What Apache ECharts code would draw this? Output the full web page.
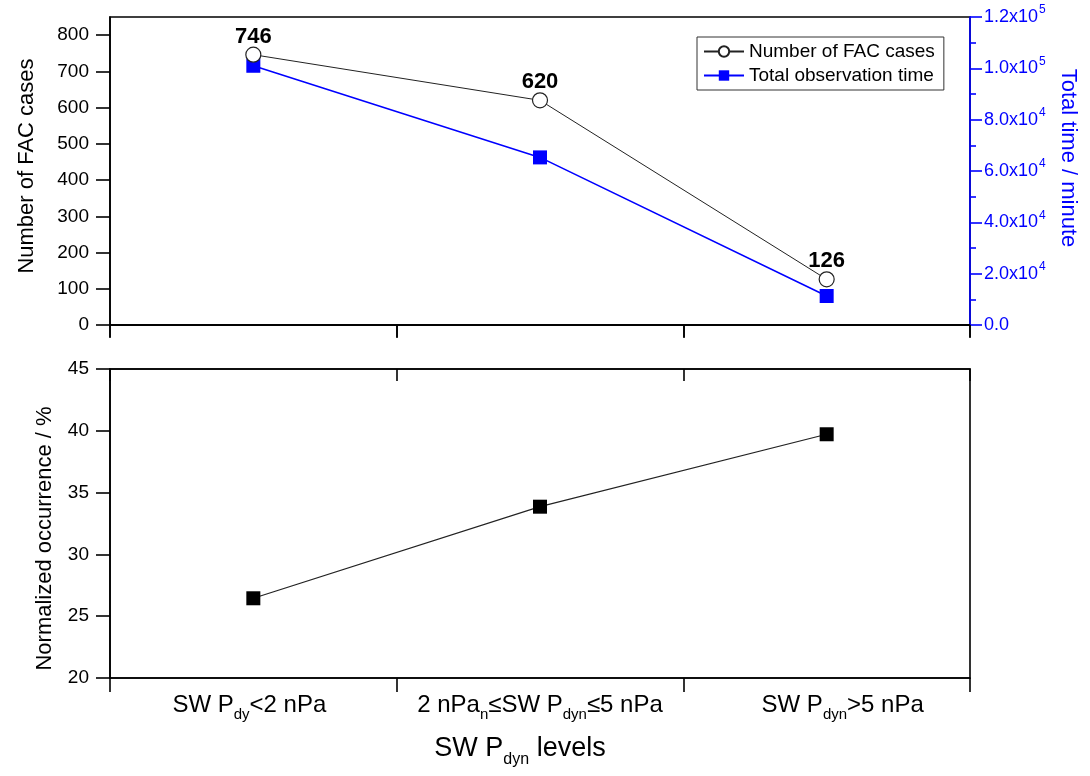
<!DOCTYPE html>
<html>
<head>
<meta charset="utf-8">
<script src="https://cdn.jsdelivr.net/npm/echarts@6/dist/echarts.min.js"></script>
<style>
html,body{margin:0;padding:0;background:#fff;}
#c{width:1090px;height:776px;}
</style>
</head>
<body>
<div id="c"></div>
<script>
// ---- data ----
const categories = ['SW P{s|dy}<2 nPa', '2 nPa{s|n}≤SW P{s|dyn}≤5 nPa', 'SW P{s|dyn}>5 nPa'];
const facCases = [746, 620, 126];
const obsTime = [101000, 65300, 11300];
const normOccurrence = [26.45, 33.86, 39.72];
const leftTicks = [0, 100, 200, 300, 400, 500, 600, 700, 800];

const FONT = 'Liberation Sans';
const chart = echarts.init(document.getElementById('c'), null, {renderer: 'canvas'});

function sciLabel(v) {
  if (v === 0) return '0.0';
  const e = Math.floor(Math.log10(v) + 1e-9);
  const m = v / Math.pow(10, e);
  return m.toFixed(1) + 'x10{p|' + e + '}';
}

const black = '#000';
const blue = '#0000ff';
const lineW = 1.6;

const baseAxisLine = {show: true, lineStyle: {color: black, width: lineW}};

// small horizontal nudges of the category labels (via empty spacer tokens)
function catLabel(v, i) {
  if (i === 2) return '{g|}' + v;
  if (i === 0) return v + '{h|}';
  return v;
}

const option = {
  backgroundColor: '#fff',
  animation: false,
  textStyle: {fontFamily: FONT},
  grid: [
    {left: 110, right: 120, top: 17, height: 308, show: true, borderColor: black, borderWidth: lineW, backgroundColor: 'transparent'},
    {left: 110, right: 120, top: 369, height: 309, show: true, borderColor: black, borderWidth: lineW, backgroundColor: 'transparent'}
  ],
  legend: {
    data: ['Number of FAC cases', 'Total observation time'],
    left: 697, top: 37,
    orient: 'vertical',
    borderColor: '#333', borderWidth: 1,
    padding: [5, 9, 5, 6],
    itemGap: 5,
    itemWidth: 40, itemHeight: 13,
    textStyle: {fontFamily: FONT, fontSize: 19, color: black}
  },
  xAxis: [
    {gridIndex: 0, type: 'category', data: categories, position: 'bottom', boundaryGap: true,
      axisLine: baseAxisLine, axisTick: {show: true, interval: 0, inside: false, length: 13, lineStyle: {color: black, width: lineW}},
      axisLabel: {show: false}, splitLine: {show: false}},
    {gridIndex: 0, type: 'category', data: categories, position: 'top', boundaryGap: true,
      axisLine: baseAxisLine, axisTick: {show: true, interval: 0, inside: true, length: 12, lineStyle: {color: black, width: lineW}},
      axisLabel: {show: false}, splitLine: {show: false}},
    {gridIndex: 1, type: 'category', data: categories, position: 'bottom', boundaryGap: true,
      axisLine: baseAxisLine, axisTick: {show: true, interval: 0, inside: false, length: 14, lineStyle: {color: black, width: lineW}},
      axisLabel: {show: true, interval: 0, hideOverlap: false, margin: 15, fontFamily: FONT, fontSize: 24, color: black,
        formatter: catLabel,
        rich: {
          s: {fontSize: 15, fontFamily: FONT, color: black, padding: [20, 0, 0, 0], lineHeight: 16},
          g: {width: 32},
          h: {width: 8}
        }},
      name: 'SW P{s|dyn} levels{g|}', nameLocation: 'middle', nameGap: 57,
      nameTextStyle: {fontFamily: FONT, fontSize: 27, color: black,
        rich: {
          s: {fontSize: 16, fontFamily: FONT, color: black, padding: [22, 0, 0, 0], lineHeight: 17},
          g: {width: 40}
        }},
      splitLine: {show: false}},
    {gridIndex: 1, type: 'category', data: categories, position: 'top', boundaryGap: true,
      axisLine: baseAxisLine, axisTick: {show: true, interval: 0, inside: true, length: 12, lineStyle: {color: black, width: lineW}},
      axisLabel: {show: false}, splitLine: {show: false}}
  ],
  yAxis: [
    {gridIndex: 0, type: 'value', position: 'left', min: 0, max: 850, interval: 100,
      axisLine: baseAxisLine,
      axisTick: {show: true, inside: false, length: 14, customValues: leftTicks, lineStyle: {color: black, width: lineW}},
      axisLabel: {show: true, margin: 21, customValues: leftTicks, fontFamily: FONT, fontSize: 19, color: black},
      splitLine: {show: false},
      name: 'Number of FAC cases', nameLocation: 'middle', nameGap: 72, nameRotate: 90,
      nameTextStyle: {fontFamily: FONT, fontSize: 22, color: black, padding: [0, 0, 0, 10]}},
    {gridIndex: 0, type: 'value', position: 'right', min: 0, max: 120000, interval: 20000,
      axisLine: {show: true, lineStyle: {color: blue, width: lineW}},
      axisTick: {show: true, inside: false, length: 12, lineStyle: {color: blue, width: lineW}},
      minorTick: {show: true, splitNumber: 2, length: 6, lineStyle: {color: blue, width: lineW}},
      axisLabel: {show: true, margin: 14, fontFamily: FONT, fontSize: 18, color: blue,
        formatter: sciLabel,
        rich: {p: {fontSize: 12, fontFamily: FONT, color: blue, padding: [0, 0, 14, 1], lineHeight: 12}}},
      splitLine: {show: false}, minorSplitLine: {show: false},
      name: 'Total time / minute', nameLocation: 'middle', nameGap: 81, nameRotate: -90,
      nameTextStyle: {fontFamily: FONT, fontSize: 22, color: blue, padding: [0, 26, 0, 0]}},
    {gridIndex: 1, type: 'value', position: 'left', min: 20, max: 45, interval: 5,
      axisLine: baseAxisLine,
      axisTick: {show: true, inside: false, length: 14, lineStyle: {color: black, width: lineW}},
      axisLabel: {show: true, margin: 21, fontFamily: FONT, fontSize: 19, color: black},
      splitLine: {show: false},
      name: 'Normalized occurrence / %', nameLocation: 'middle', nameGap: 54, nameRotate: 90,
      nameTextStyle: {fontFamily: FONT, fontSize: 22, color: black, padding: [0, 30, 0, 0]}}
  ],
  series: [
    {name: 'Number of FAC cases', type: 'line', xAxisIndex: 0, yAxisIndex: 0, data: facCases,
      symbol: 'circle', symbolSize: 15, z: 3,
      lineStyle: {color: '#222', width: 1},
      itemStyle: {color: '#fff', borderColor: '#222', borderWidth: 1.2},
      label: {show: true, position: 'top', distance: -1, fontFamily: FONT, fontSize: 22, fontWeight: 'bold', color: black}},
    {name: 'Total observation time', type: 'line', xAxisIndex: 0, yAxisIndex: 1, data: obsTime,
      symbol: 'rect', symbolSize: 14, z: 2,
      lineStyle: {color: blue, width: 1.6},
      itemStyle: {color: blue}},
    {name: 'Normalized occurrence', type: 'line', xAxisIndex: 2, yAxisIndex: 2, data: normOccurrence,
      symbol: 'rect', symbolSize: 14,
      lineStyle: {color: '#222', width: 1.2},
      itemStyle: {color: black}}
  ]
};
chart.setOption(option);
</script>
</body>
</html>
